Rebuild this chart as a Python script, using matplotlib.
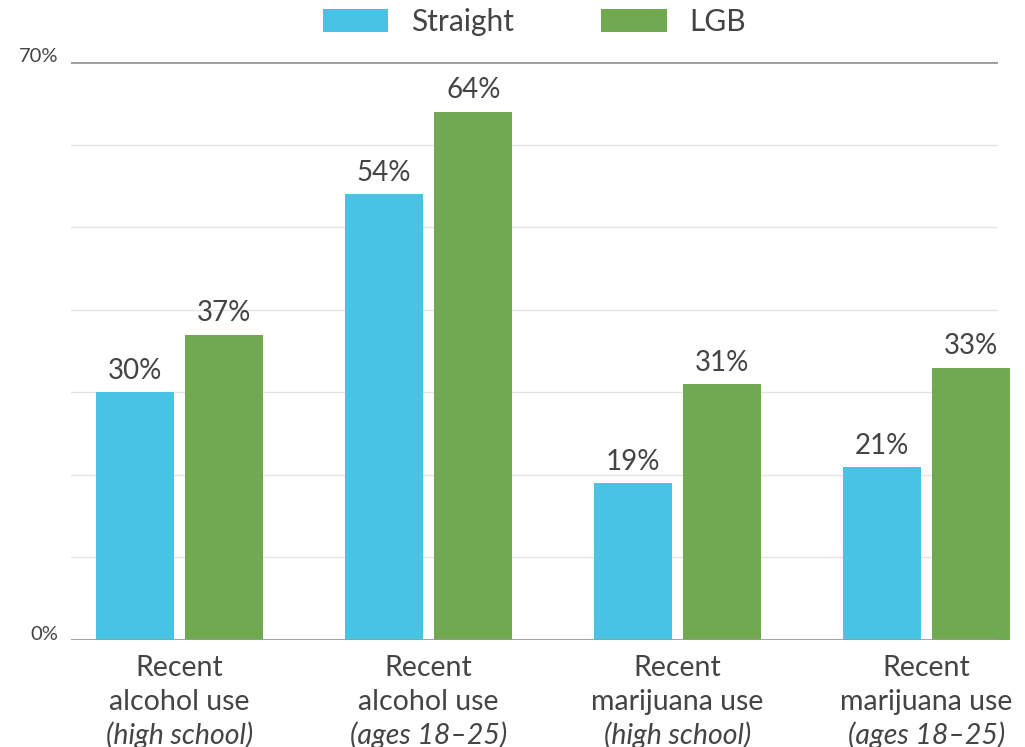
import numpy as np
import matplotlib
matplotlib.use('Agg')
import matplotlib.pyplot as plt
from matplotlib.transforms import blended_transform_factory

# data
groups = ['Recent\nalcohol use', 'Recent\nalcohol use',
          'Recent\nmarijuana use', 'Recent\nmarijuana use']
subtitles = ['(high school)', '(ages 18\u201325)', '(high school)', '(ages 18\u201325)']
straight = [30, 54, 19, 21]
lgb = [37, 64, 31, 33]
series_names = ['Straight', 'LGB']

plt.rcParams['font.family'] = ['Lato', 'DejaVu Sans']
text_col = '#444444'
blue = '#48c3e3'
green = '#70a950'

fig = plt.figure(figsize=(10.25, 7.47), dpi=100)
ax = fig.add_axes([0.0693, 0.1432, 0.9044, 0.7738])

ind = np.arange(len(groups))
width = 0.313
off = 0.18
b1 = ax.bar(ind - off, straight, width, color=blue, clip_on=False, zorder=3)
b2 = ax.bar(ind + off, lgb, width, color=green, clip_on=False, zorder=3)

ax.set_xlim(-0.436, 3.287)
ax.set_ylim(0, 70)

# grid lines
for y in range(10, 70, 10):
    ax.axhline(y, color='#e4e4e4', lw=1, zorder=1)
ax.axhline(0, color='#9a9a9a', lw=2, zorder=4)
ax.axhline(70, color='#9a9a9a', lw=2, zorder=4)

for s in ax.spines.values():
    s.set_visible(False)
ax.set_xticks([])
ax.set_yticks([])

# y labels only at the ends
tr = blended_transform_factory(ax.transAxes, ax.transData)
for y in [0, 70]:
    ax.annotate('%d%%' % y, xy=(0, y), xycoords=tr, xytext=(-9, 0),
                textcoords='offset points', ha='right', va='baseline',
                fontsize=14.5, color=text_col)

# value labels
for bars, vals in [(b1, straight), (b2, lgb)]:
    for b, v in zip(bars, vals):
        ax.annotate('%d%%' % v, xy=(b.get_x() + b.get_width() / 2, v),
                    xytext=(0, 9.4), textcoords='offset points',
                    ha='center', va='baseline', fontsize=20, color=text_col,
                    annotation_clip=False)

# category labels, last line italic
trx = blended_transform_factory(ax.transData, ax.transAxes)
for i, (g, sub) in enumerate(zip(groups, subtitles)):
    l1, l2 = g.split('\n')
    for txt, dy, style in [(l1, -25.9, 'normal'), (l2, -50.4, 'normal'), (sub, -74.9, 'italic')]:
        ax.annotate(txt, xy=(ind[i], 0), xycoords=trx, xytext=(0, dy),
                    textcoords='offset points', ha='center', va='baseline',
                    fontsize=20.5, color=text_col, style=style,
                    annotation_clip=False)

leg = ax.legend((b1[0], b2[0]), series_names, loc='center',
                bbox_to_anchor=(0.5, 1.069), ncol=2, frameon=False,
                fontsize=21.5, handlelength=2.2, handleheight=0.8,
                handletextpad=0.77, columnspacing=2.9, borderaxespad=0,
                borderpad=0)
for t in leg.get_texts():
    t.set_color(text_col)

plt.savefig('out.png', dpi=100)
